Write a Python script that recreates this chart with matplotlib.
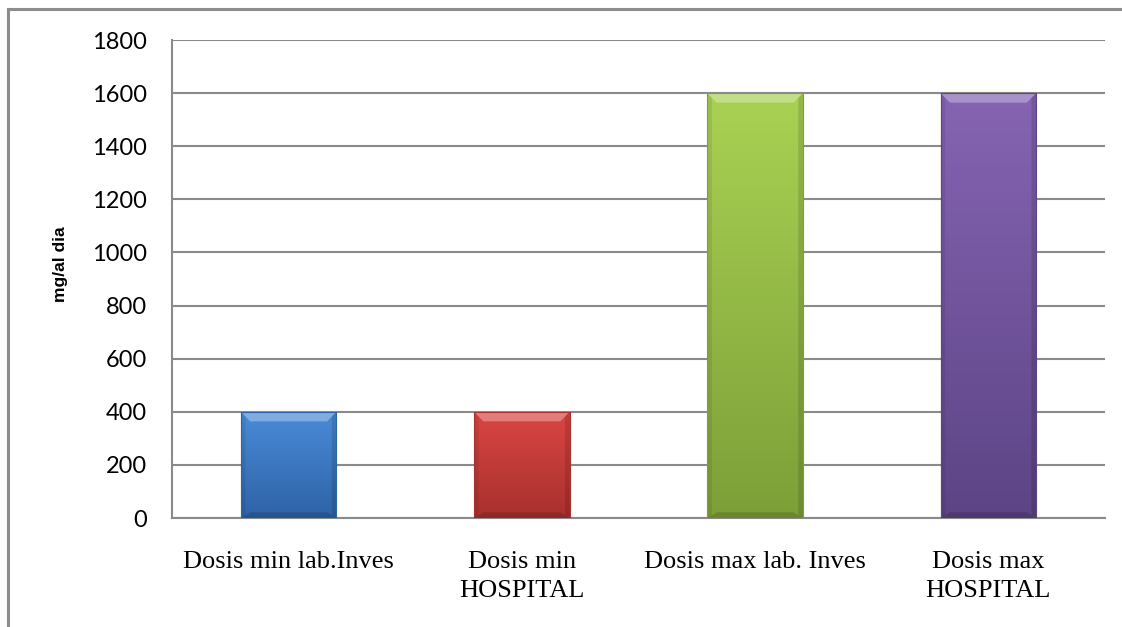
import numpy as np
import matplotlib.pyplot as plt
from matplotlib.colors import LinearSegmentedColormap
from matplotlib.patches import Polygon
from matplotlib.lines import Line2D

categories = ['Dosis min lab.Inves', 'Dosis min\nHOSPITAL', 'Dosis max lab. Inves', 'Dosis max\nHOSPITAL']
values = [400, 400, 1600, 1600]
yticks = [0, 200, 400, 600, 800, 1000, 1200, 1400, 1600, 1800]
# (top, bottom) colours of each bar gradient
bar_colors = [('#4a8bd8', '#2e63a6'), ('#da4643', '#a8302e'),
              ('#a9d253', '#7d9f38'), ('#8664b3', '#5c4485')]

fig = plt.figure(figsize=(11.22, 6.27), dpi=100)
ax = fig.add_axes([0.1533, 0.1738, 0.8315, 0.7624])

x = np.arange(len(categories))
bars = ax.bar(x, values, width=0.41, color='none', zorder=3)
ax.set_xlim(-0.5, len(categories) - 0.5)
ax.set_ylim(0, 1800)

grad = np.linspace(0, 1, 256).reshape(-1, 1)
bev_x = 0.04
bev_y = 36
for b, (c_top, c_bot) in zip(bars, bar_colors):
    x0, w, h = b.get_x(), b.get_width(), b.get_height()
    cmap = LinearSegmentedColormap.from_list('g', [c_bot, c_top])
    im = ax.imshow(grad, cmap=cmap, aspect='auto', origin='lower',
                   extent=[x0, x0 + w, 0, h], zorder=3)
    im.set_clip_path(b)
    # bevel: light top, dark bottom and sides
    ax.add_patch(Polygon([[x0, h], [x0 + w, h], [x0 + w - bev_x, h - bev_y], [x0 + bev_x, h - bev_y]],
                         closed=True, facecolor='white', alpha=0.3, edgecolor='none', zorder=4))
    ax.add_patch(Polygon([[x0, 0], [x0 + w, 0], [x0 + w - bev_x, bev_y * 0.6], [x0 + bev_x, bev_y * 0.6]],
                         closed=True, facecolor='black', alpha=0.15, edgecolor='none', zorder=4))
    ax.add_patch(Polygon([[x0, 0], [x0 + bev_x * 0.5, bev_y * 0.3], [x0 + bev_x * 0.5, h - bev_y * 0.5], [x0, h]],
                         closed=True, facecolor='black', alpha=0.08, edgecolor='none', zorder=4))
    ax.add_patch(Polygon([[x0 + w, 0], [x0 + w - bev_x * 0.5, bev_y * 0.3], [x0 + w - bev_x * 0.5, h - bev_y * 0.5], [x0 + w, h]],
                         closed=True, facecolor='black', alpha=0.12, edgecolor='none', zorder=4))
    ax.add_patch(plt.Rectangle((x0, 0), w, h, facecolor='none', edgecolor=c_bot,
                               linewidth=0.8, zorder=5))

ax.set_yticks(yticks)
ax.set_yticklabels([str(v) for v in yticks], fontfamily='Lato', fontsize=17)
ax.set_xticks(x)
ax.set_xticklabels(categories, fontfamily='Liberation Serif', fontsize=19, linespacing=1.4)
ax.tick_params(axis='both', length=0)
ax.tick_params(axis='y', pad=18)
ax.tick_params(axis='x', pad=24)
ax.yaxis.grid(True, color='#8a8a8a', linewidth=1.5, zorder=0)
ax.set_axisbelow(True)
for s in ['top', 'right']:
    ax.spines[s].set_visible(False)
for s in ['left', 'bottom']:
    ax.spines[s].set_color('#8a8a8a')
    ax.spines[s].set_linewidth(1.5)

ax.set_ylabel('mg/al dia', fontfamily='Liberation Sans', fontweight='bold', fontsize=12.5)
ax.yaxis.set_label_coords(-0.111, 0.531)

# outer chart frame (cut off at right and bottom)
fig.add_artist(Line2D([8 / 1122, 8 / 1122], [0, 1 - 9 / 627], transform=fig.transFigure,
                      color='#8c8c8c', linewidth=2.2))
fig.add_artist(Line2D([8 / 1122, 1], [1 - 9 / 627, 1 - 9 / 627], transform=fig.transFigure,
                      color='#8c8c8c', linewidth=2.2))

fig.savefig('out.png', dpi=100)
